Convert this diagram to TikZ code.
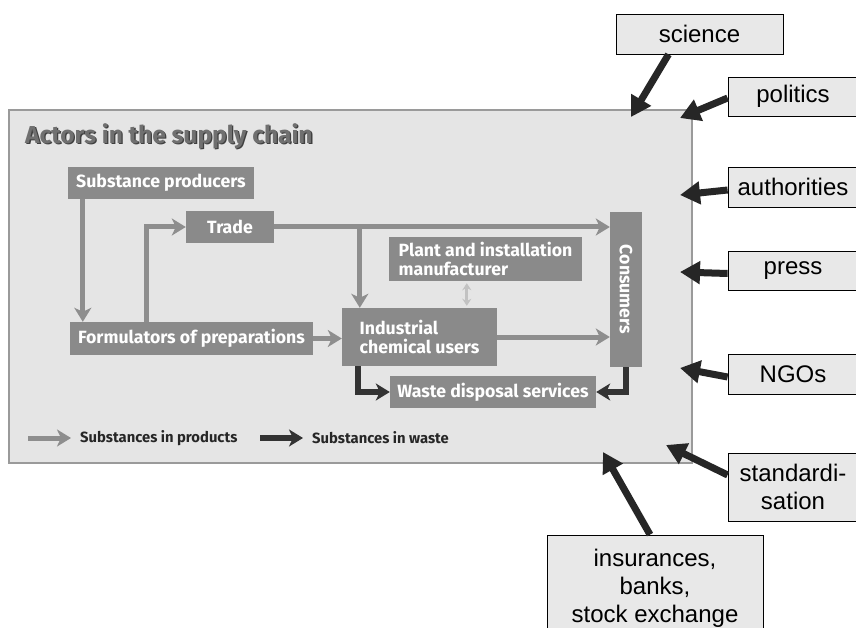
\documentclass[tikz,border=0pt]{standalone}
\usepackage{fontspec}
\setmainfont{Liberation Sans}
\newfontfamily\chainfont{Fira Sans}
\usetikzlibrary{arrows.meta}
\definecolor{panelgray}{HTML}{E5E5E5}
\definecolor{framegray}{HTML}{9A9A9A}
\definecolor{boxgray}{HTML}{8A8A8A}
\definecolor{flowgray}{HTML}{8E8E8E}
\definecolor{wastedark}{HTML}{333333}
\definecolor{labelgray}{HTML}{E8E8E8}
\definecolor{titlegray}{HTML}{707070}
\definecolor{linkgray}{HTML}{C2C2C2}

\begin{document}
\begin{tikzpicture}[x=1pt,y=-1pt]
    \tikzset{actor/.style = {fill=boxgray, text=white, inner sep=0pt, minimum height=32pt,
                             font=\chainfont\bfseries\fontsize{17.7}{19.5}\selectfont},
             flow/.style = {draw=flowgray, line width=5pt, -{Stealth[length=14pt,width=17pt,inset=4pt]}},
             waste flow/.style = {draw=wastedark, line width=5.5pt, -{Stealth[length=14pt,width=17pt,inset=4pt]}},
             link/.style = {draw=linkgray, line width=3pt, {Stealth[length=7pt,width=9pt]}-{Stealth[length=7pt,width=9pt]}},
             legend/.style = {inner sep=0pt, text=black!85, font=\chainfont\bfseries\fontsize{14.8}{16}\selectfont},
             titletext/.style = {inner sep=0pt, font=\chainfont\bfseries\fontsize{24.5}{27}\selectfont},
             party/.style = {draw=black, fill=labelgray, line width=0.8pt, inner sep=0pt, align=center,
                             font=\fontsize{24}{28}\selectfont},
             influence/.style = {draw=black!85, line width=7pt, -{Triangle[length=20pt,width=22pt]}}}
    \useasboundingbox (0,0) rectangle (856,628);
    \clip (0,0) rectangle (856,628);
    \fill[white] (0,0) rectangle (856,628);
    % supply chain panel
    \draw[framegray, line width=1.5pt, fill=panelgray] (9,110) rectangle (692,463);
    \node[titletext, text=black!75, anchor=west] (titleshadow) at (26.3,137.3) {Actors in the supply chain};
    \node[titletext, text=titlegray, anchor=west] (title) at (25,136) {Actors in the supply chain};
    \node[actor, minimum width=186pt] (prod) at (161,183) {Substance producers};
    \node[actor, minimum width=88pt] (trade) at (230,227) {Trade};
    \node[actor, minimum width=243pt, minimum height=33pt] (form) at (191.5,338.5) {Formulators of preparations};
    \node[actor, minimum width=193pt, minimum height=44pt, align=left] (plant) at (485.5,259) {Plant and installation\\manufacturer};
    \node[actor, minimum width=155pt, minimum height=58pt, align=left] (indus) at (419.5,337) {Industrial\\chemical users};
    \node[actor, minimum width=32pt, minimum height=155pt] (cons) at (626,289.5) {\rotatebox{-90}{Consumers}};
    \node[actor, minimum width=206pt] (waste) at (493,392) {Waste disposal services};
    % flows
    \path ([xshift=15pt]prod.south west) coordinate (prodout);
    \draw[flow] (prodout) -- (prodout |- form.north);
    \path ([xshift=77pt]form.north west) coordinate (formup);
    \draw[flow] (formup) |- (trade.west);
    \draw[flow] (form.east) -- (form.east -| indus.west);
    \draw[flow] (trade.east) -- (trade.east -| cons.west);
    \path ([xshift=18pt]indus.north west) coordinate (indusin);
    \draw[flow] (indusin |- trade.east) -- (indusin);
    \draw[flow] (indus.east) -- (indus.east -| cons.west);
    \path ([xshift=78pt]plant.south west) coordinate (plantlink);
    \draw[link, shorten <=2pt, shorten >=2pt] (plantlink) -- (plantlink |- indus.north);
    \path ([xshift=16pt]indus.south west) coordinate (indusout);
    \draw[waste flow] (indusout) |- (waste.west);
    \draw[waste flow] (cons.south) |- (waste.east);
    % legend
    \node[legend, anchor=west] (legprod) at (80,438) {Substances in products};
    \node[legend, anchor=west] (legwaste) at (312,438) {Substances in waste};
    \draw[flow] ([xshift=-52pt]legprod.west) -- ([xshift=-9pt]legprod.west);
    \draw[waste flow] ([xshift=-52pt]legwaste.west) -- ([xshift=-9pt]legwaste.west);
    % outside actors
    \node[party, minimum width=167pt, minimum height=40pt] (science) at (699.5,34) {science};
    \node[party, minimum width=130pt, minimum height=39pt] (politics) at (793,96.5) {politics};
    \node[party, minimum width=130pt, minimum height=40pt] (authorities) at (793,187) {authorities};
    \node[party, minimum width=130pt, minimum height=39pt] (press) at (793,270.5) {press};
    \node[party, minimum width=130pt, minimum height=40pt] (ngos) at (793,374) {NGOs};
    \node[party, minimum width=130pt, minimum height=68pt] (stand) at (793,487) {standardi-\\sation};
    \node[party, minimum width=216pt, minimum height=106pt] (finance) at (655,588) {insurances,\\banks,\\stock exchange};
    \coordinate (scitip) at (631,117);
    \coordinate (poltip) at (680,118);
    \coordinate (authtip) at (680,195);
    \coordinate (presstip) at (680,272);
    \coordinate (ngotip) at (680,368);
    \coordinate (standtip) at (666,445);
    \coordinate (fintip) at (603,452);
    \draw[influence] ([xshift=-31pt]science.south) -- (scitip);
    \draw[influence] ([yshift=-1.5pt]politics.west) -- (poltip);
    \draw[influence] ([yshift=-3pt]authorities.west) -- (authtip);
    \draw[influence] ([yshift=-3pt]press.west) -- (presstip);
    \draw[influence] ([yshift=-3pt]ngos.west) -- (ngotip);
    \draw[influence] ([yshift=12pt]stand.west) -- (standtip);
    \draw[influence] ([xshift=-5pt]finance.north) -- (fintip);
\end{tikzpicture}
\end{document}
